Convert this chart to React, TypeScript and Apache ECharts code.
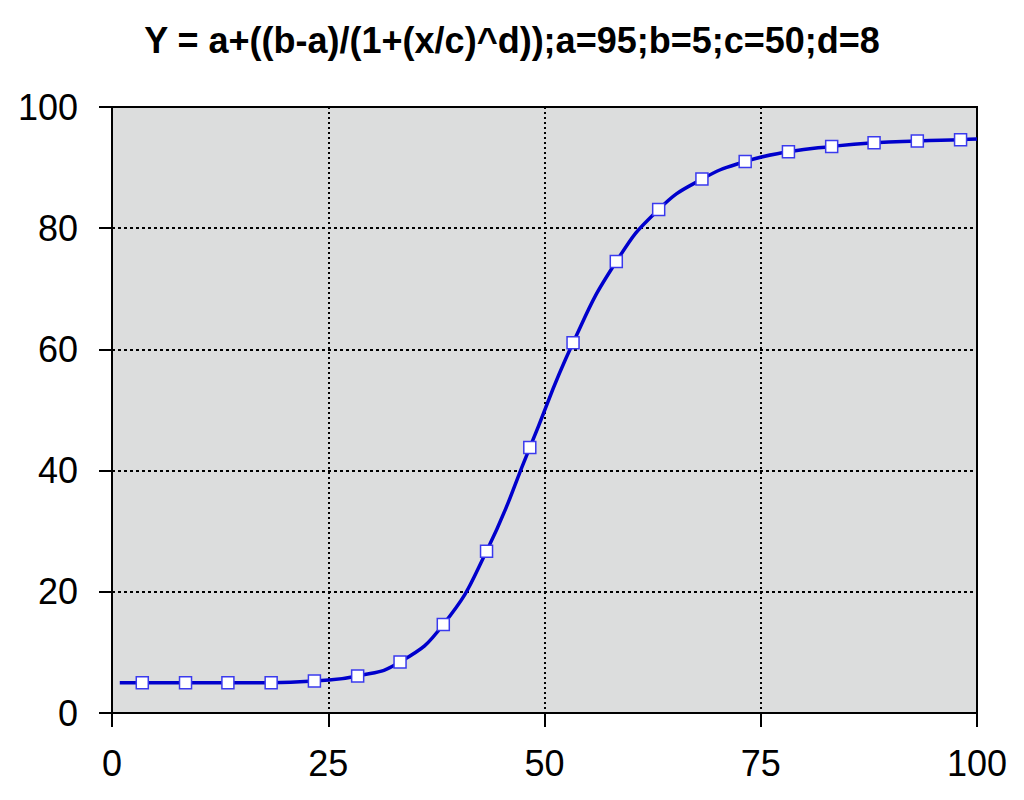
import React, { useEffect, useRef } from "react";
import * as echarts from "echarts";

const titleText = "Y = a+((b-a)/(1+(x/c)^d));a=95;b=5;c=50;d=8";

// marker points
const markerX = [3.5, 8.5, 13.4, 18.4, 23.4, 28.4, 33.3, 38.3, 43.3, 48.3, 53.3, 58.3, 63.2, 68.2, 73.2, 78.2, 83.2, 88.1, 93.1, 98.1];
const markerY = [5.0, 5.0, 5.0, 5.0, 5.3, 6.1, 8.4, 14.6, 26.7, 43.8, 61.1, 74.5, 83.1, 88.1, 91.0, 92.6, 93.5, 94.1, 94.4, 94.6];

// curve ends (no marker)
const lineStart = [0.9, 5.0];
const lineEnd = [100, 94.7];

const xTicks = [0, 25, 50, 75, 100];
const yTicks = [0, 20, 40, 60, 80, 100];

const FONT = '"Liberation Sans", Arial, sans-serif';

export default function App() {
  const ref = useRef<HTMLDivElement>(null);
  useEffect(() => {
    document.body.style.margin = "0";
    if (!ref.current) return;
    const chart = echarts.init(ref.current, null, { renderer: "svg" });
    const data: any[] = [
      { value: lineStart, symbol: "none" },
      ...markerX.map((x, i) => ({ value: [x, markerY[i]] })),
      { value: lineEnd, symbol: "none" },
    ];
    chart.setOption({
      animation: false,
      backgroundColor: "#ffffff",
      title: {
        text: titleText,
        left: "center",
        top: 17,
        textStyle: {
          fontFamily: FONT,
          fontWeight: "bold",
          fontSize: 36,
          color: "#000",
        },
      },
      grid: {
        left: 112,
        right: 47,
        top: 107,
        bottom: 87,
        show: true,
        backgroundColor: "#dcdddd",
        borderColor: "#000",
        borderWidth: 2,
      },
      xAxis: {
        type: "value",
        min: xTicks[0],
        max: xTicks[xTicks.length - 1],
        interval: 25,
        axisLine: { show: true, onZero: false, lineStyle: { color: "#000", width: 2 } },
        axisTick: { show: true, length: 14, lineStyle: { color: "#000", width: 2 } },
        axisLabel: {
          margin: 32,
          fontFamily: FONT,
          fontSize: 36,
          color: "#000",
        },
        splitLine: { show: true, lineStyle: { color: "#000", width: 2, type: [2, 3] } },
      },
      yAxis: {
        type: "value",
        min: yTicks[0],
        max: yTicks[yTicks.length - 1],
        interval: 20,
        axisLine: { show: true, onZero: false, lineStyle: { color: "#000", width: 2 } },
        axisTick: { show: true, length: 13, lineStyle: { color: "#000", width: 2 } },
        axisLabel: {
          margin: 34,
          fontFamily: FONT,
          fontSize: 36,
          color: "#000",
        },
        splitLine: { show: true, lineStyle: { color: "#000", width: 2, type: [3, 3] } },
      },
      series: [
        {
          type: "line",
          data,
          smooth: 0.5,
          symbol: "rect",
          symbolSize: 12,
          showAllSymbol: true,
          lineStyle: { color: "#0000cc", width: 3.5 },
          itemStyle: { color: "#ffffff", borderColor: "#3a3aee", borderWidth: 1.5 },
          z: 3,
        },
      ],
    });
    return () => chart.dispose();
  }, []);
  return <div ref={ref} style={{ width: 1024, height: 800 }} />;
}
